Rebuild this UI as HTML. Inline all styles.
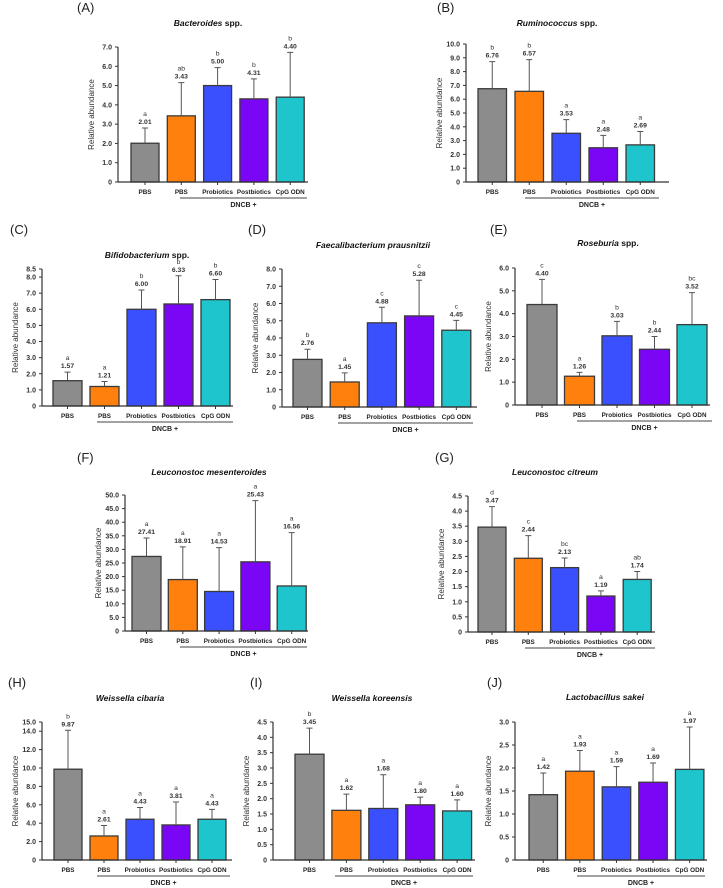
<!DOCTYPE html>
<html><head><meta charset="utf-8">
<style>
html,body{margin:0;padding:0;background:#fff;}
svg{display:block;font-family:"Liberation Sans",Arial,sans-serif;}
</style></head>
<body>
<svg id="fig" width="723" height="888" viewBox="0 0 723 888" xmlns="http://www.w3.org/2000/svg"></svg>
<script>
const groups = ["PBS","PBS","Probiotics","Postbiotics","CpG ODN"];
const colors = ["#8c8c8c","#ff800c","#3a50ff","#7a06f5","#1fc5cc"];

const valsA = [2.01,3.43,5.00,4.31,4.40];
const errA  = [0.79,1.72,0.93,1.04,2.32];
const letA  = ["a","ab","b","b","b"];
const ticksA = [0,1,2,3,4,5,6,7];

const valsB = [6.76,6.57,3.53,2.48,2.69];
const errB  = [1.96,2.30,0.99,0.90,0.97];
const letB  = ["b","b","a","a","a"];
const ticksB = [0,1,2,3,4,5,6,7,8,9,10];

const valsC = [1.57,1.21,6.00,6.33,6.60];
const errC  = [0.53,0.31,1.20,1.75,1.25];
const letC  = ["a","a","b","b","b"];
const ticksC = [0,1,2,3,4,5,6,7,8,8.5];

const valsD = [2.76,1.45,4.88,5.28,4.45];
const errD  = [0.59,0.53,0.90,2.07,0.57];
const letD  = ["b","a","c","c","c"];
const ticksD = [0,1,2,3,4,5,6,7,8];

const valsE = [4.40,1.26,3.03,2.44,3.52];
const errE  = [1.10,0.17,0.63,0.56,1.40];
const letE  = ["c","a","b","b","bc"];
const ticksE = [0,1,2,3,4,5,6];

const valsF = [27.41,18.91,14.53,25.43,16.56];
const errF  = [6.8,12.0,16.1,22.5,19.6];
const letF  = ["a","a","a","a","a"];
const ticksF = [0,5,10,15,20,25,30,35,40,45,50];

const valsG = [3.47,2.44,2.13,1.19,1.74];
const errG  = [0.68,0.75,0.32,0.17,0.26];
const letG  = ["d","c","bc","a","ab"];
const ticksG = [0,0.5,1,1.5,2,2.5,3,3.5,4,4.5];

const valsH = [9.87,2.61,4.43,3.81,4.43];
const errH  = [4.23,1.14,1.27,2.49,1.07];
const letH  = ["b","a","a","a","a"];
const ticksH = [0,2,4,6,8,10,12,14,15];

const valsI = [3.45,1.62,1.68,1.80,1.60];
const errI  = [0.85,0.53,1.10,0.25,0.36];
const letI  = ["b","a","a","a","a"];
const ticksI = [0,0.5,1,1.5,2,2.5,3,3.5,4,4.5];

const valsJ = [1.42,1.93,1.59,1.69,1.97];
const errJ  = [0.47,0.45,0.44,0.42,0.92];
const letJ  = ["a","a","a","a","a"];
const ticksJ = [0,0.5,1,1.5,2,2.5,3];

const panels = [
 {id:"a",tag:"(A)",ti:"Bacteroides",sp:" spp.",vals:valsA,err:errA,let:letA,ticks:ticksA,ax:118,base:182,top:47,b0:131,pitch:36.3,w:28,axEnd:308,tx:208,ty:26,tagx:77,tagy:12,d0:180,d1:307},
 {id:"b",tag:"(B)",ti:"Ruminococcus",sp:" spp.",vals:valsB,err:errB,let:letB,ticks:ticksB,ax:466,base:182,top:44,b0:478,pitch:37,w:28.5,axEnd:669,tx:557,ty:26,tagx:437,tagy:12,d0:525,d1:659},
 {id:"c",tag:"(C)",ti:"Bifidobacterium",sp:" spp.",vals:valsC,err:errC,let:letC,ticks:ticksC,ax:42,base:406,top:269,b0:53,pitch:37,w:29,axEnd:233,tx:147,ty:258,tagx:10,tagy:234,d0:97,d1:233},
 {id:"d",tag:"(D)",ti:"Faecalibacterium prausnitzii",sp:"",vals:valsD,err:errD,let:letD,ticks:ticksD,ax:282,base:407,top:269,b0:293,pitch:37.2,w:29,axEnd:477,tx:373,ty:248,tagx:248,tagy:234,d0:338,d1:473},
 {id:"e",tag:"(E)",ti:"Roseburia",sp:" spp.",vals:valsE,err:errE,let:letE,ticks:ticksE,ax:515,base:405,top:268,b0:527,pitch:37.5,w:30,axEnd:710,tx:608,ty:246,tagx:490,tagy:234,d0:577,d1:712},
 {id:"f",tag:"(F)",ti:"Leuconostoc mesenteroides",sp:"",vals:valsF,err:errF,let:letF,ticks:ticksF,ax:125,base:631,top:495,b0:132,pitch:36.3,w:29,axEnd:308,tx:209,ty:475,tagx:77,tagy:462,d0:180,d1:307},
 {id:"g",tag:"(G)",ti:"Leuconostoc citreum",sp:"",vals:valsG,err:errG,let:letG,ticks:ticksG,ax:468,base:632,top:496,b0:478,pitch:36.3,w:28,axEnd:655,tx:555,ty:475,tagx:435,tagy:462,d0:525,d1:655},
 {id:"h",tag:"(H)",ti:"Weissella cibaria",sp:"",vals:valsH,err:errH,let:letH,ticks:ticksH,ax:42,base:860,top:722,b0:54,pitch:36,w:28,axEnd:232,tx:130,ty:701,tagx:8,tagy:687,d0:97,d1:230},
 {id:"i",tag:"(I)",ti:"Weissella koreensis",sp:"",vals:valsI,err:errI,let:letI,ticks:ticksI,ax:273,base:860,top:722,b0:295,pitch:36.9,w:29,axEnd:475,tx:372,ty:701,tagx:250,tagy:687,d0:335,d1:473},
 {id:"j",tag:"(J)",ti:"Lactobacillus sakei",sp:"",vals:valsJ,err:errJ,let:letJ,ticks:ticksJ,ax:515,base:860,top:722,b0:529,pitch:36.6,w:28.5,axEnd:707,tx:605,ty:700,tagx:487,tagy:687,d0:577,d1:705}
];

const NS = "http://www.w3.org/2000/svg";
const svg = document.getElementById("fig");
function mk(tag, attrs, parent, text){
  const e = document.createElementNS(NS, tag);
  for (const k in attrs) e.setAttribute(k, attrs[k]);
  if (text !== undefined) e.textContent = text;
  parent.appendChild(e);
  return e;
}
function fmt(t){ return t === 0 ? "0" : t.toFixed(1); }

panels.forEach(p => {
  const g = mk("g", {}, svg);
  
  
  const ymax = p.ticks[p.ticks.length-1];
  const y = v => p.base - (v / ymax) * (p.base - p.top);
  const xc = i => p.b0 + i*p.pitch + p.w/2;

  const tg = mk("text", {x:p.tagx, y:p.tagy, "font-size":13, fill:"#222"}, g, p.tag);
  
  

  const tt = mk("text", {x:p.tx, y:p.ty, "font-size":8.5, "font-weight":"bold", "text-anchor":"middle", fill:"#111"}, g);
  
  
  mk("tspan", {"font-style":"italic"}, tt, p.ti);
  if (p.sp) mk("tspan", {}, tt, p.sp);

  p.vals.forEach((v,i) => {
    const bx = p.b0 + i*p.pitch;
    const r = mk("rect", {x:bx, y:y(v), width:p.w, height:p.base-y(v), fill:colors[i], stroke:"#3a3a3a", "stroke-width":1.3}, g);
    
    
    const top = y(v + p.err[i]);
    const el = mk("path", {d:`M${xc(i)},${y(v)}V${top}M${xc(i)-3},${top}H${xc(i)+3}`, stroke:"#555", "stroke-width":1, fill:"none"}, g);
    
    
    const vl = mk("text", {x:xc(i), y:top-4, "font-size":6.8, "text-anchor":"middle", fill:"#333", "font-weight":"bold"}, g, v.toFixed(2));
    
    
    const ll = mk("text", {x:xc(i), y:top-12, "font-size":6.8, "text-anchor":"middle", fill:"#333"}, g, p.let[i]);
    
    
    mk("line", {x1:xc(i), x2:xc(i), y1:p.base, y2:p.base+3, stroke:"#333", "stroke-width":1}, g);
    const xl = mk("text", {x:xc(i), y:p.base+12, "font-size":6.3, "font-weight":"bold", "text-anchor":"middle", fill:"#222"}, g, groups[i]);
    
    
  });

  const ya = mk("line", {x1:p.ax, x2:p.ax, y1:p.top, y2:p.base, stroke:"#333", "stroke-width":1.2}, g);
  
  
  const xa = mk("line", {x1:p.ax, x2:p.axEnd, y1:p.base, y2:p.base, stroke:"#333", "stroke-width":1.2}, g);
  
  
  p.ticks.forEach(t => {
    mk("line", {x1:p.ax-3, x2:p.ax, y1:y(t), y2:y(t), stroke:"#333", "stroke-width":1}, g);
    const tl = mk("text", {x:p.ax-6, y:y(t)+2.5, "font-size":7, "text-anchor":"end", fill:"#333", "font-weight":"bold"}, g, fmt(t));
    
    
  });
  const yl = mk("text", {x:0, y:0, "font-size":8, "text-anchor":"middle", fill:"#333", transform:`translate(${p.ax-24},${(p.top+p.base)/2}) rotate(-90)`}, g, "Relative abundance");
  
  

  const dl = mk("line", {x1:p.d0, x2:p.d1, y1:p.base+16, y2:p.base+16, stroke:"#444", "stroke-width":1}, g);
  
  
  const dt = mk("text", {x:(p.d0+p.d1)/2, y:p.base+25, "font-size":7, "font-weight":"bold", "text-anchor":"middle", fill:"#222"}, g, "DNCB +");
  
  
});
</script>
</body></html>
